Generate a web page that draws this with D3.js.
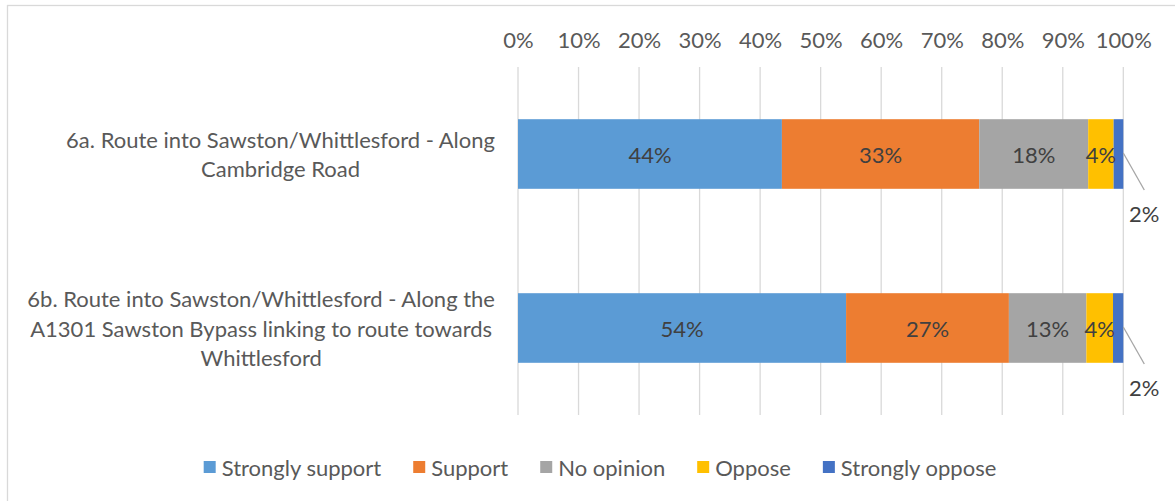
<!DOCTYPE html>
<html><head><meta charset="utf-8">
<script src="https://cdn.jsdelivr.net/npm/d3@7"></script>
<style>
html,body{margin:0;padding:0;background:#fff;}
svg{display:block;font-family:Lato,"Open Sans",sans-serif;}
</style></head>
<body>
<svg id="chart" width="1175" height="501"></svg>
<script>
const categories = [
  ["6a. Route into Sawston/Whittlesford - Along", "Cambridge Road"],
  ["6b. Route into Sawston/Whittlesford - Along the", "A1301 Sawston Bypass linking to route towards", "Whittlesford"]
];
const categoryIds = ["6a", "6b"];
const seriesNames = ["Strongly support", "Support", "No opinion", "Oppose", "Strongly oppose"];
const seriesColors = ["#5B9BD5", "#ED7D31", "#A5A5A5", "#FFC000", "#4472C4"];
const strongSupport = [43.6, 54.2];
const support = [32.6, 26.9];
const noOpinion = [18.0, 12.8];
const oppose = [4.2, 4.4];
const strongOppose = [1.6, 1.7];
const valueLabels = [["44%", "33%", "18%", "4%", "2%"], ["54%", "27%", "13%", "4%", "2%"]];
const tickValues = [0, 10, 20, 30, 40, 50, 60, 70, 80, 90, 100];

const FS = "22px";
const svg = d3.select("#chart");
const plot = {left: 518, right: 1123.3, top: 67, bottom: 415};

// frame
svg.append("rect").attr("x", 7.5).attr("y", 5.5).attr("width", 1200).attr("height", 520)
  .attr("fill", "#fff").attr("stroke", "#d9d9d9").attr("stroke-width", 1.3);

const x = d3.scaleLinear().domain([0, 100]).range([plot.left, plot.right]);
const y = d3.scaleBand().domain(categoryIds).range([plot.top, plot.bottom])
  .paddingInner(0.6).paddingOuter(0.3);

// gridlines
svg.append("g").selectAll("line").data(tickValues).join("line")
  .attr("x1", d => x(d)).attr("x2", d => x(d))
  .attr("y1", plot.top).attr("y2", plot.bottom)
  .attr("stroke", "#d9d9d9").attr("stroke-width", 1.3);

// top axis labels
const xAxis = d3.axisTop(x).tickValues(tickValues).tickFormat(d => d + "%").tickSize(0).tickPadding(0);
const ax = svg.append("g").attr("transform", "translate(0,48)").call(xAxis);
ax.select(".domain").remove();
ax.selectAll("text").attr("fill", "#595959").style("font-size", FS).style("font-family", "Lato");

// stack
const rows = categoryIds.map((id, i) => ({
  id, i,
  "Strongly support": strongSupport[i], "Support": support[i], "No opinion": noOpinion[i],
  "Oppose": oppose[i], "Strongly oppose": strongOppose[i]
}));
const stack = d3.stack().keys(seriesNames)(rows);

const g = svg.append("g");
stack.forEach((layer, si) => {
  g.append("g").selectAll("rect").data(layer).join("rect")
    .attr("x", d => x(d[0])).attr("width", d => x(d[1]) - x(d[0]))
    .attr("y", d => y(d.data.id)).attr("height", y.bandwidth())
    .attr("fill", seriesColors[si]);
});

// inside labels (first four series)
stack.forEach((layer, si) => {
  if (si === 4) return;
  g.append("g").selectAll("text").data(layer).join("text")
    .attr("x", d => (x(d[0]) + x(d[1])) / 2)
    .attr("y", d => y(d.data.id) + y.bandwidth() / 2)
    .attr("text-anchor", "middle").attr("dominant-baseline", "central")
    .attr("fill", "#404040").style("font-size", FS)
    .text(d => valueLabels[d.data.i][si]);
});

// last series: outside labels with leader lines
const last = stack[4];
const lead = svg.append("g");
last.forEach(d => {
  const cy = y(d.data.id) + y.bandwidth() / 2;
  const x0 = x(d[1]);
  lead.append("line").attr("x1", x0).attr("y1", cy - 1)
    .attr("x2", x0 + 21).attr("y2", cy + 36)
    .attr("stroke", "#a6a6a6").attr("stroke-width", 1.3);
  lead.append("text").attr("x", x0 + 21).attr("y", cy + 59)
    .attr("text-anchor", "middle").attr("dominant-baseline", "central")
    .attr("fill", "#404040").style("font-size", FS)
    .text(valueLabels[d.data.i][4]);
});

// category labels
const labelRight = 495, lineH = 29.5;
categoryIds.forEach((id, i) => {
  const lines = categories[i];
  const cg = svg.append("g");
  const cy = y(id) + y.bandwidth() / 2;
  const n = lines.length;
  const texts = lines.map((t, k) => cg.append("text")
    .attr("y", cy + (k - (n - 1) / 2) * lineH)
    .attr("text-anchor", "middle").attr("dominant-baseline", "central")
    .attr("fill", "#595959").style("font-size", FS).text(t));
  const maxW = d3.max(texts, t => t.node().getComputedTextLength());
  texts.forEach(t => t.attr("x", labelRight - maxW / 2));
});

// legend
const leg = svg.append("g");
const items = seriesNames.map((name, i) => {
  const it = leg.append("g");
  it.append("rect").attr("width", 12).attr("height", 12).attr("y", -6).attr("fill", seriesColors[i]);
  const t = it.append("text").attr("x", 18).attr("dominant-baseline", "central")
    .attr("fill", "#595959").style("font-size", FS).text(name);
  return {it, w: 18 + t.node().getComputedTextLength()};
});
const gap = 32;
const total = d3.sum(items, d => d.w) + gap * (items.length - 1);
let cx = 600 - total / 2;
items.forEach(d => { d.it.attr("transform", `translate(${cx},467)`); cx += d.w + gap; });
</script>
</body></html>
